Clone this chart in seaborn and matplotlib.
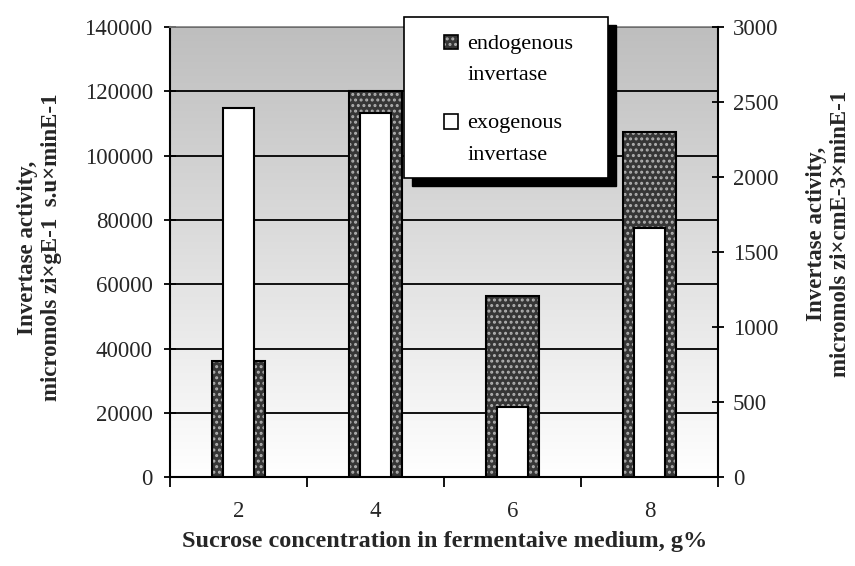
import numpy as np
import pandas as pd
import matplotlib
matplotlib.use('Agg')
import matplotlib.pyplot as plt
import seaborn as sns
from matplotlib.colors import LinearSegmentedColormap
from matplotlib.patches import Patch, Rectangle
from matplotlib.legend_handler import HandlerPatch

# values
concentration = ['2', '4', '6', '8']
endogenous = [36000, 120000, 56500, 107500]   # left axis
exogenous = [2460, 2430, 470, 1660]           # right axis

df = pd.DataFrame({'conc': concentration, 'endo': endogenous, 'exo': exogenous})

sns.set_theme(style='ticks')
plt.rcParams['font.family'] = ['Liberation Serif', 'DejaVu Serif']
plt.rcParams['hatch.linewidth'] = 1.4
plt.rcParams['text.color'] = 'black'

fig = plt.figure(figsize=(8.55, 5.66), dpi=100)
ax = fig.add_axes([0.199, 0.157, 0.641, 0.795])

# grey-to-white background gradient
grad = LinearSegmentedColormap.from_list('bg', ['white', '#bebebe'])
ax.imshow(np.linspace(0, 1, 256)[:, None], cmap=grad, origin='lower',
          extent=[0, 1, 0, 1], transform=ax.transAxes, aspect='auto', zorder=0)

# endogenous bars: dark dotted fill + black outline
sns.barplot(data=df, x='conc', y='endo', ax=ax, color='#363636', edgecolor='#b0b0b0',
            hatch='...', linewidth=0, width=0.39, saturation=1, zorder=2)
sns.barplot(data=df, x='conc', y='endo', ax=ax, fill=False, color='black',
            linewidth=1.5, width=0.39, zorder=3)

ax2 = ax.twinx()
sns.barplot(data=df, x='conc', y='exo', ax=ax2, color='white', edgecolor='black',
            linewidth=1.5, width=0.23, saturation=1)

ax.set_xlim(-0.5, 3.5)
ax.set_ylim(0, 140000)
ax2.set_ylim(0, 3000)
ax.set_yticks(range(0, 140001, 20000))
ax2.set_yticks(range(0, 3001, 500))

ax.set_xticks([-0.5, 0.5, 1.5, 2.5, 3.5], labels=[''] * 5)
ax.set_xticks(range(4), labels=concentration, minor=True)
ax.tick_params(axis='x', which='major', direction='out', length=7, width=1.3, color='black')
ax.tick_params(axis='x', which='minor', length=0, pad=17, labelsize=16.5)
ax.tick_params(axis='y', direction='inout', length=9, width=1.3, color='black', pad=8, labelsize=16.5)
ax2.tick_params(axis='y', direction='inout', length=9, width=1.3, color='black', pad=6, labelsize=16.5)

ax.set_axisbelow(True)
ax.yaxis.grid(True, color='black', linewidth=1.3)
ax.xaxis.grid(False)

ax.spines['right'].set_visible(False)
ax.spines['top'].set_color('#808080')
ax.spines['top'].set_linewidth(1.2)
for s in ['top', 'left', 'bottom']:
    ax2.spines[s].set_visible(False)
for s in ['left', 'bottom']:
    ax.spines[s].set_color('black')
    ax.spines[s].set_linewidth(1.5)
ax2.spines['right'].set_color('black')
ax2.spines['right'].set_linewidth(1.5)

ax.set_xlabel('Sucrose concentration in fermentaive medium, g%', fontsize=17.5, fontweight='bold')
ax.xaxis.set_label_coords(0.5, -0.12)
ax.set_ylabel('Invertase activity,\nmicromols zi×gE-1  s.u×minE-1', fontsize=16.5, fontweight='bold')
ax.yaxis.set_label_coords(-0.197, 0.51)
ax2.set_ylabel('Invertase activity,\nmicromols zi×cmE-3×minE-1', fontsize=16.5, fontweight='bold',
               rotation=90)
ax2.yaxis.set_label_coords(1.160, 0.54)

# legend box with hard shadow
bx, by, bw, bh = 0.4725, 0.6855, 0.2386, 0.2845
fig.add_artist(Rectangle((bx + 0.0094, by - 0.0141), bw, bh, transform=fig.transFigure,
                         facecolor='black', edgecolor='black', zorder=3))
fig.add_artist(Rectangle((bx, by), bw, bh, transform=fig.transFigure,
                         facecolor='white', edgecolor='black', linewidth=1.2, zorder=4))


def top_square(legend, orig_handle, xdescent, ydescent, width, height, fontsize):
    # put the key next to the first line of a two-line label
    return Rectangle((-xdescent, -ydescent + 12.5), width, height)


h_endo = (Patch(facecolor='#363636', edgecolor='#b0b0b0', hatch='...', linewidth=0),
          Patch(fill=False, edgecolor='black', linewidth=1.2))
h_exo = Patch(facecolor='white', edgecolor='black', linewidth=1.2)
leg = fig.legend([h_endo, h_exo], ['endogenous\ninvertase', 'exogenous\ninvertase'],
                 loc='upper left', bbox_to_anchor=(444 / 855, 1 - 35 / 566),
                 frameon=False, borderpad=0, borderaxespad=0, fontsize=16,
                 handlelength=0.65, handleheight=0.65, handletextpad=0.4, labelspacing=1.3,
                 handler_map={Patch: HandlerPatch(patch_func=top_square)})
leg.set_zorder(5)
for t in leg.get_texts():
    t.set_linespacing(1.88)

fig.savefig('out.png', dpi=100)
